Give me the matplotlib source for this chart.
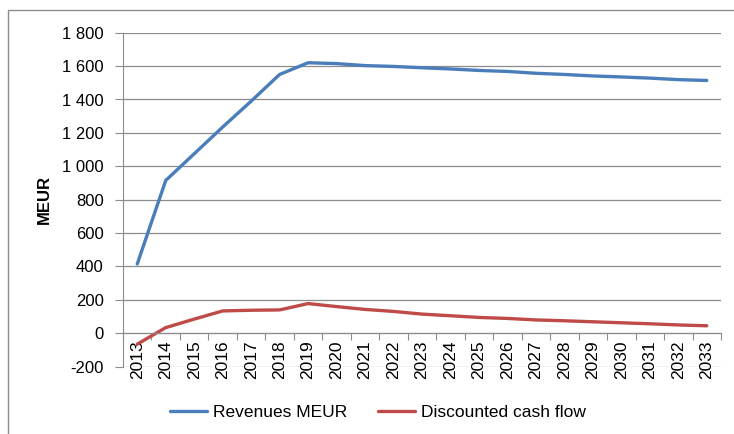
import matplotlib
matplotlib.use("Agg")
import matplotlib.pyplot as plt
from matplotlib.ticker import FixedLocator, FuncFormatter
from matplotlib.patches import Rectangle
import numpy as np

years = [str(y) for y in range(2013, 2034)]
revenues = [415, 915, 1075, 1235, 1390, 1550, 1620, 1615, 1603, 1598, 1590,
            1583, 1574, 1568, 1557, 1550, 1541, 1535, 1528, 1519, 1514]
cash_flow = [-65, 34, 85, 134, 138, 140, 178, 160, 143, 131, 115,
             105, 95, 89, 80, 75, 69, 63, 57, 50, 45]

plt.rcParams['font.family'] = ['Liberation Sans', 'DejaVu Sans']
plt.rcParams['axes.unicode_minus'] = False

W, H = 734, 434
fig = plt.figure(figsize=(W / 100, H / 100), dpi=100)
ax = fig.add_axes([123 / W, 1 - 366.7 / H, 598 / W, (366.7 - 32.7) / H])

x = np.arange(len(years))
ax.plot(x, revenues, color='#4A7EBB', lw=2.4, label='Revenues MEUR',
        solid_capstyle='round')
ax.plot(x, cash_flow, color='#BE4B48', lw=2.4, label='Discounted cash flow',
        solid_capstyle='round')

ax.set_xlim(-0.5, len(years) - 0.5)
ax.set_ylim(-200, 1800)
ax.set_yticks(range(-200, 1801, 200))
ax.yaxis.set_major_formatter(FuncFormatter(lambda v, p: f"{v:,.0f}".replace(",", " ")))
ax.grid(axis='y', color='#8c8c8c', lw=0.9)
ax.set_axisbelow(True)

# category axis crossing at zero, ticks between categories
ax.spines['bottom'].set_position(('data', 0))
ax.spines['bottom'].set_color('#8c8c8c')
ax.spines['left'].set_color('#8c8c8c')
ax.spines['top'].set_visible(False)
ax.spines['right'].set_visible(False)
ax.xaxis.set_major_locator(FixedLocator(np.arange(-0.5, len(years), 1.0)))
ax.xaxis.set_major_formatter(FuncFormatter(lambda v, p: ""))
ax.xaxis.set_minor_locator(FixedLocator(x))
ax.set_xticklabels(years, minor=True, rotation=90, fontsize=12.5)
ax.tick_params(axis='x', which='major', direction='out', length=5, color='#8c8c8c')
ax.tick_params(axis='x', which='minor', length=0, pad=5)
ax.tick_params(axis='y', direction='out', length=6, color='#8c8c8c', labelsize=12, pad=8)

ax.set_ylabel('MEUR', fontweight='bold', fontsize=12)
ax.yaxis.set_label_coords((52 - 123) / 598, 0.5)

fig.legend(loc='center', bbox_to_anchor=(378 / W, 1 - 412 / H), ncol=2,
           frameon=False, fontsize=12.5, handlelength=2.1, handletextpad=0.35,
           columnspacing=1.8)

fig.patches.append(Rectangle((8 / W, -0.1), 2, 1 - 10 / H + 0.1,
                             transform=fig.transFigure, fill=False,
                             edgecolor='#8c8c8c', lw=1))

fig.savefig('out.png', dpi=100)
